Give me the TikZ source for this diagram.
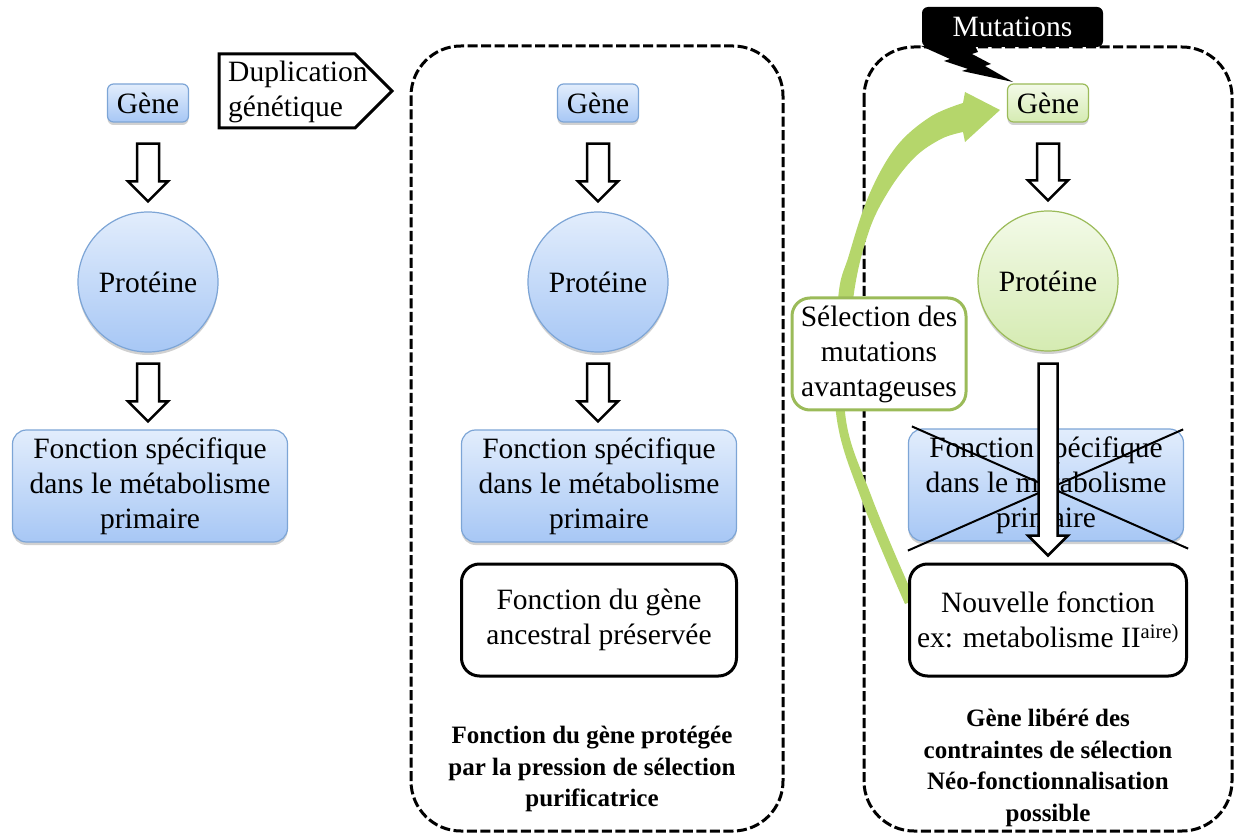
\documentclass[tikz,border=0pt]{standalone}
\usepackage{fontspec}
\setmainfont{Liberation Serif}
\usetikzlibrary{calc,shadows}
\definecolor{bluetop}{HTML}{E2EDFC}
\definecolor{bluebot}{HTML}{A7C7F5}
\definecolor{blueline}{HTML}{7DA5D6}
\definecolor{greentop}{HTML}{F3FAE8}
\definecolor{greenbot}{HTML}{D5EBB2}
\definecolor{greenline}{HTML}{9BBB59}
\definecolor{arrowgreen}{HTML}{B5D66B}
\newcommand\blockarrow[4]{%
  \draw[hollow] let \p1=#1, \p2=#2 in
   (\x1-#3,\y1) -- (\x1+#3,\y1) -- (\x1+#3,\y2+20pt) -- (\x1+#4,\y2+20pt) -- (\x1,\y2)
   -- (\x1-#4,\y2+20pt) -- (\x1-#3,\y2+20pt) -- cycle;}
\begin{document}
\begin{tikzpicture}[x=1pt,y=-1pt,
  txt/.style={font=\fontsize{29.5}{35}\selectfont, align=center, inner sep=0},
  boldtxt/.style={font=\fontsize{25}{31.5}\selectfont\bfseries, align=center, inner sep=0},
  softshadow/.style={drop shadow={shadow xshift=0pt, shadow yshift=-3pt, opacity=0.18, fill=black}},
  bluebox/.style={txt, rounded corners=14, draw=blueline, line width=1.2, top color=bluetop, bottom color=bluebot, minimum width=275, minimum height=112, softshadow},
  bluegene/.style={txt, rounded corners=6, draw=blueline, line width=1.2, top color=bluetop, bottom color=bluebot, minimum width=81, minimum height=38, softshadow},
  greengene/.style={txt, rounded corners=6, draw=greenline, line width=1.2, top color=greentop, bottom color=greenbot, minimum width=81, minimum height=38, softshadow},
  blueprot/.style={txt, circle, draw=blueline, line width=1.2, top color=bluetop, bottom color=bluebot, minimum size=140, softshadow},
  greenprot/.style={txt, circle, draw=greenline, line width=1.2, top color=greentop, bottom color=greenbot, minimum size=140, softshadow},
  blackbox/.style={txt, rounded corners=18, draw=black, line width=3, fill=white, minimum width=275, minimum height=112},
  selbox/.style={txt, rounded corners=18, draw=greenline, line width=3, fill=white, minimum width=174, minimum height=112},
  dashbox/.style={draw=black, line width=3, dash pattern=on 10pt off 3.5pt, rounded corners=50},
  hollow/.style={draw=black, line width=2.5, fill=white, line join=miter},
  crossline/.style={draw=black, line width=2}]
\useasboundingbox (0,0) rectangle (1235,834);

% dashed frames
\draw[dashbox] (411,46) rectangle (783,831);
\draw[dashbox] (864,47) rectangle (1232,831);

% left column
\node[bluegene] (g1) at (148,103) {Gène};
\node[blueprot] (p1) at (148,282) {Protéine};
\node[bluebox] (f1) at (150,486) {Fonction spécifique\\dans le métabolisme\\primaire};
\blockarrow{($(g1.south)+(0,21)$)}{($(p1.north)+(0,-10)$)}{11pt}{20pt}
\blockarrow{($(p1.south)+(0,11)$)}{($(f1.north)+(0,-8)$)}{11pt}{20pt}

% duplication tag
\draw[line width=3, line join=miter] (219,54) -- (355,54) -- (392,91) -- (355,128) -- (219,128) -- cycle;
\node[txt, align=left, anchor=west] (dup) at (228,92) {Duplication\\génétique};

% middle column
\node[bluegene] (g2) at (598,103) {Gène};
\node[blueprot] (p2) at (598,282) {Protéine};
\node[bluebox] (f2) at (599,486) {Fonction spécifique\\dans le métabolisme\\primaire};
\node[blackbox] (n2) at (599,620) {Fonction du gène\\ancestral préservée};
\blockarrow{($(g2.south)+(0,21)$)}{($(p2.north)+(0,-10)$)}{11pt}{20pt}
\blockarrow{($(p2.south)+(0,11)$)}{($(f2.north)+(0,-8)$)}{11pt}{20pt}
\node[boldtxt] (b2) at (592,769) {Fonction du gène protégée\\par la pression de sélection\\purificatrice};

% right column
\fill[arrowgreen] plot[smooth, tension=0.6] coordinates {(905,604) (862,501) (836,413) (838,300) (849,255) (869,195) (896,147) (930,117) (963,103)}
  -- (965,92) -- (1000,110) -- (965,142)
  -- plot[smooth, tension=0.6] coordinates {(963,132) (941,139) (914,158) (888,192) (868,234) (853,300) (845,412) (872,498) (915,600)} -- cycle;
\node[greengene] (g3) at (1048,103) {Gène};
\node[greenprot] (p3) at (1048,281) {Protéine};
\node[bluebox] (f3) at (1046,485) {Fonction spécifique\\dans le métabolisme\\primaire};
\node[blackbox, minimum width=277] (n3) at (1048,620) {Nouvelle fonction\\ex: metabolisme II\textsuperscript{aire)}};
\node[selbox] (sel) at (879,354) {Sélection des\\mutations\\avantageuses};
\draw[crossline] ($(f3.north west)+(4,-2)$) -- ($(f3.south east)+(4,7)$);
\draw[crossline] ($(f3.south west)+(0,9)$) -- ($(f3.north east)+(-1,1)$);
\blockarrow{($(g3.south)+(0,21)$)}{($(p3.north)+(0,-10)$)}{11pt}{20pt}
\blockarrow{($(p3.south)+(0,12)$)}{($(n3.north)+(0,-7)$)}{9.5pt}{20pt}
\node[boldtxt] (b3) at (1048,768) {Gène libéré des\\contraintes de sélection\\Néo-fonctionnalisation\\possible};

% mutations callout
\fill[black] (921,46) -- (950,59) -- (944,61) -- (968,69) -- (962,71) -- (1013,82)
  -- (985,66) -- (991,64) -- (972,54) -- (978,52) -- (975,46) -- cycle;
\node[txt, fill=black, text=white, rounded corners=6, minimum width=181, minimum height=40] (mut) at (1012.5,27) {Mutations};
\end{tikzpicture}
\end{document}
